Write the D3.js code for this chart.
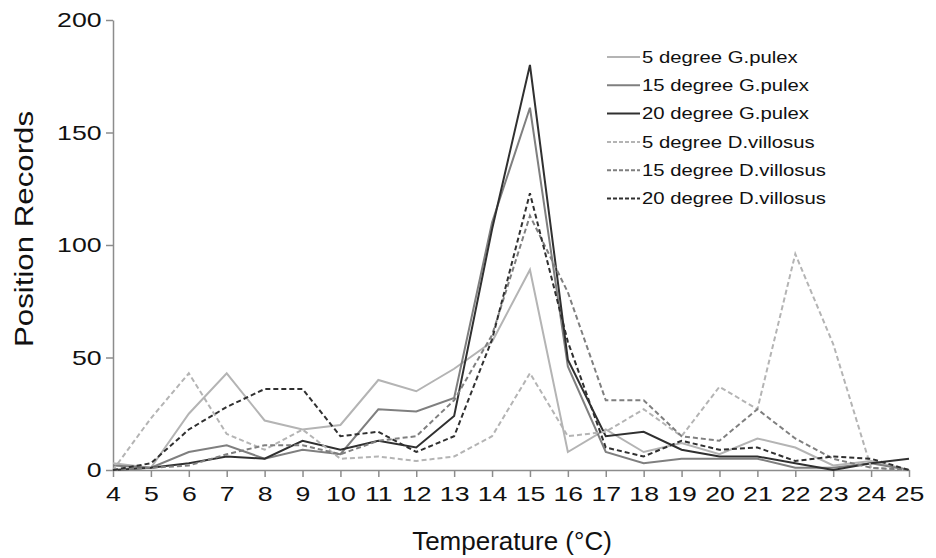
<!DOCTYPE html>
<html>
<head>
<meta charset="utf-8">
<script src="https://cdn.jsdelivr.net/npm/d3@7"></script>
<style>
  body { margin: 0; background: #fff; }
  svg { display: block; font-family: "Liberation Sans", Arial, sans-serif; }
</style>
</head>
<body>
<svg id="chart" width="936" height="558"></svg>
<script>
// temperatures on the x axis
var temps = [4, 5, 6, 7, 8, 9, 10, 11, 12, 13, 14, 15, 16, 17, 18, 19, 20, 21, 22, 23, 24, 25];
var yTicks = [0, 50, 100, 150, 200];

// position records per series
var gp5  = [3, 1, 25, 43, 22, 18, 20, 40, 35, 45, 57, 89, 8, 18, 8, 12, 7, 14, 10, 2, 4, 0];
var gp15 = [2, 1, 8, 11, 5, 9, 7, 27, 26, 32, 110, 161, 46, 8, 3, 5, 5, 5, 1, 1, 3, 0];
var gp20 = [0, 1, 3, 6, 5, 13, 9, 13, 10, 24, 107, 180, 49, 15, 17, 9, 6, 6, 3, 0, 3, 5];
var dv5  = [0, 23, 43, 16, 9, 18, 5, 6, 4, 6, 15, 43, 15, 17, 27, 15, 37, 27, 96, 56, 1, 0];
var dv15 = [0, 1, 2, 7, 11, 11, 7, 13, 15, 31, 60, 113, 79, 31, 31, 15, 13, 27, 14, 5, 1, 0];
var dv20 = [0, 3, 18, 28, 36, 36, 15, 17, 8, 15, 58, 123, 57, 10, 6, 13, 9, 10, 4, 6, 5, 0];

var seriesNames = ["5 degree G.pulex", "15 degree G.pulex", "20 degree G.pulex",
                   "5 degree D.villosus", "15 degree D.villosus", "20 degree D.villosus"];
var seriesValues = [gp5, gp15, gp20, dv5, dv15, dv20];
var seriesColors = ["#b4b4b4", "#7f7f7f", "#303030", "#b4b4b4", "#7f7f7f", "#303030"];
var seriesDashed = [false, false, false, true, true, true];

(function () {
    "use strict";

    var svg = d3.select("#chart");
    var axisColor = "#8c8c8c";
    var stretch = 1.27; // text in the figure is drawn wider than normal

    var x = d3.scaleLinear().domain([4, 25]).range([113, 909]);
    var y = d3.scaleLinear().domain([0, 200]).range([470, 20]);

    // x axis
    var xAxis = svg.append("g")
        .attr("transform", "translate(0," + y(0) + ")")
        .call(d3.axisBottom(x).tickValues(temps).tickFormat(d3.format("d"))
            .tickSizeInner(7).tickSizeOuter(0).tickPadding(9));
    xAxis.select(".domain").attr("stroke", axisColor).attr("stroke-width", 1.5);
    xAxis.selectAll(".tick line").attr("stroke", axisColor).attr("stroke-width", 1.5);
    xAxis.selectAll(".tick text")
        .attr("font-size", 21).attr("fill", "#111")
        .attr("font-family", "Liberation Sans, Arial, sans-serif")
        .attr("transform", "scale(" + stretch + ",1)");

    // y axis
    var yAxis = svg.append("g")
        .attr("transform", "translate(" + x(4) + ",0)")
        .call(d3.axisLeft(y).tickValues(yTicks)
            .tickSizeInner(7).tickSizeOuter(0).tickPadding(2));
    yAxis.select(".domain").attr("stroke", axisColor).attr("stroke-width", 1.5);
    yAxis.selectAll(".tick line").attr("stroke", axisColor).attr("stroke-width", 1.5);
    yAxis.selectAll(".tick text")
        .attr("font-size", 21).attr("fill", "#111")
        .attr("font-family", "Liberation Sans, Arial, sans-serif")
        .attr("transform", "scale(" + stretch + ",1)");

    // lines
    var line = d3.line()
        .x(function (d, i) { return x(temps[i]); })
        .y(function (d) { return y(d); });

    seriesValues.forEach(function (vals, k) {
        svg.append("path")
            .datum(vals)
            .attr("fill", "none")
            .attr("stroke", seriesColors[k])
            .attr("stroke-width", 2)
            .attr("stroke-dasharray", seriesDashed[k] ? "5,3" : null)
            .attr("stroke-linejoin", "miter")
            .attr("d", line);
    });

    // legend
    var legend = svg.append("g").attr("transform", "translate(607,57)");
    var row = legend.selectAll("g")
        .data(seriesNames)
        .enter().append("g")
        .attr("transform", function (d, i) { return "translate(0," + i * 28.3 + ")"; });

    row.append("line")
        .attr("x1", 0).attr("x2", 33).attr("y1", 0).attr("y2", 0)
        .attr("stroke", function (d, i) { return seriesColors[i]; })
        .attr("stroke-width", 2)
        .attr("stroke-dasharray", function (d, i) { return seriesDashed[i] ? "4,2" : null; });

    row.append("text")
        .attr("transform", "translate(35,0) scale(" + stretch + ",1)")
        .attr("dy", "0.36em")
        .attr("font-size", 16)
        .attr("fill", "#111")
        .text(function (d) { return d; });

    // axis titles
    svg.append("text")
        .attr("x", 512).attr("y", 550)
        .attr("text-anchor", "middle")
        .attr("font-size", 26)
        .attr("fill", "#111")
        .text("Temperature (°C)");

    svg.append("text")
        .attr("transform", "translate(33,229) rotate(-90) scale(1.25,1)")
        .attr("text-anchor", "middle")
        .attr("font-size", 25)
        .attr("fill", "#111")
        .text("Position Records");
}());
</script>
</body>
</html>
